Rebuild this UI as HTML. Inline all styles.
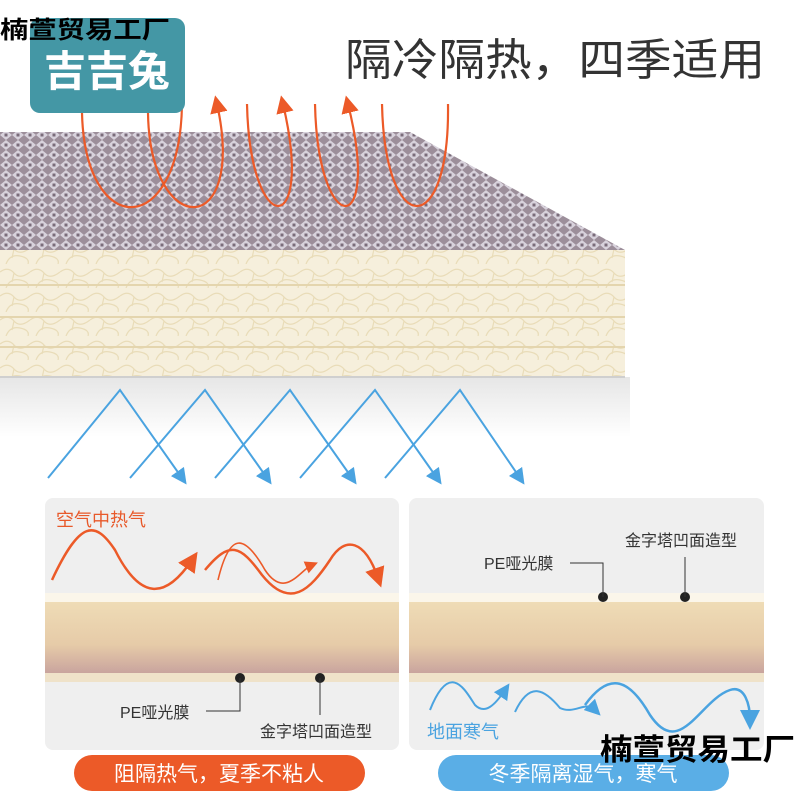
<!DOCTYPE html>
<html><head><meta charset="utf-8"><style>
html,body{margin:0;padding:0;background:#fff;}
svg{display:block;}
text{font-family:"Liberation Sans","Noto Sans CJK SC",sans-serif;}
</style></head><body>
<svg width="800" height="800" viewBox="0 0 800 800" xmlns="http://www.w3.org/2000/svg">
<defs>
<pattern id="foil" width="12" height="10" patternUnits="userSpaceOnUse">
<rect width="12" height="10" fill="#9c8e9a"/>
<path d="M0 5 L6 0 L12 5 L6 10Z" fill="#d8d2dc"/>
<rect x="4.5" y="3.5" width="3" height="3" fill="#7a6c7a"/>
</pattern>
<pattern id="cream" width="30" height="24" patternUnits="userSpaceOnUse">
<rect width="30" height="24" fill="#f6efdc"/>
<path d="M0 8 Q8 2 14 9 T30 8 M6 24 Q10 14 20 16 T28 24 M14 9 L12 18" stroke="#e9dcb8" stroke-width="1.2" fill="none"/>
</pattern>
<linearGradient id="band" x1="0" y1="0" x2="0" y2="1">
<stop offset="0" stop-color="#efdcb6"/><stop offset="0.6" stop-color="#e6cba8"/><stop offset="1" stop-color="#c9a49e"/>
</linearGradient>
<marker id="ao" markerWidth="8" markerHeight="8" refX="4" refY="4" orient="auto" markerUnits="strokeWidth"><path d="M0 0 L8 4 L0 8Z" fill="#ec5a28"/></marker>
<marker id="ab" markerWidth="8" markerHeight="8" refX="4" refY="4" orient="auto" markerUnits="strokeWidth"><path d="M0 0 L8 4 L0 8Z" fill="#4aa3e0"/></marker>
<linearGradient id="shade" x1="0" y1="0" x2="0" y2="1"><stop offset="0" stop-color="#e6e6e6"/><stop offset="1" stop-color="#fff"/></linearGradient>
</defs>

<rect x="0" y="377" width="630" height="60" fill="url(#shade)"/>
<path d="M0 132 L410 132 L625 250 L0 250Z" fill="url(#foil)"/>
<rect x="0" y="250" width="625" height="127" fill="url(#cream)"/>
<g stroke="#e4d5ae" stroke-width="2"><line x1="0" y1="285" x2="625" y2="285"/><line x1="0" y1="317" x2="625" y2="317"/><line x1="0" y1="347" x2="625" y2="347"/></g>
<line x1="0" y1="377" x2="625" y2="377" stroke="#cfcfcf" stroke-width="2"/>

<g stroke="#ec5a28" stroke-width="2.2" fill="none">
<path d="M82 113 C85 240 180 240 182 104"/>
<path d="M148 113 C150 240 247 240 217 104" marker-end="url(#ao)"/>
<path d="M247 104 C250 240 315 240 283 104" marker-end="url(#ao)"/>
<path d="M315 104 C318 240 382 240 348 104" marker-end="url(#ao)"/>
<path d="M382 104 C385 240 450 240 448 104"/>
</g>

<rect x="30" y="18" width="155" height="95" rx="10" fill="#4497a5"/>
<text x="107" y="86" font-size="42" font-weight="bold" fill="#fff" text-anchor="middle">吉吉兔</text>
<text x="0" y="38" font-size="24" font-weight="bold" fill="#000" textLength="170" lengthAdjust="spacingAndGlyphs">楠萱贸易工厂</text>
<text x="345" y="75" font-size="44" fill="#333" textLength="420" lengthAdjust="spacingAndGlyphs">隔冷隔热，四季适用</text>

<g stroke="#4aa3e0" stroke-width="2" fill="none">
<path d="M48 478 L120 390 L182 478" marker-end="url(#ab)"/>
<path d="M130 478 L205 390 L267 478" marker-end="url(#ab)"/>
<path d="M215 478 L290 390 L352 478" marker-end="url(#ab)"/>
<path d="M300 478 L375 390 L437 478" marker-end="url(#ab)"/>
<path d="M385 478 L460 390 L520 478" marker-end="url(#ab)"/>
</g>

<rect x="45" y="498" width="354" height="252" rx="8" fill="#efefef"/>
<rect x="409" y="498" width="355" height="252" rx="8" fill="#efefef"/>
<g>
<rect x="45" y="593" width="354" height="9" fill="#fbf6ea"/>
<rect x="45" y="602" width="354" height="71" fill="url(#band)"/>
<rect x="45" y="673" width="354" height="9" fill="#efe2c9"/>
<rect x="409" y="593" width="355" height="9" fill="#fbf6ea"/>
<rect x="409" y="602" width="355" height="71" fill="url(#band)"/>
<rect x="409" y="673" width="355" height="9" fill="#efe2c9"/>
</g>

<text x="56" y="526" font-size="18" fill="#e8592a">空气中热气</text>
<g stroke="#ec5a28" stroke-width="2.5" fill="none">
<path d="M52 580 C80 520 95 520 115 550 C140 600 165 600 192 560" marker-end="url(#ao)"/>
<path d="M218 580 C230 530 245 535 265 570 C285 600 300 570 312 565" marker-end="url(#ao)" stroke-width="1.6"/>
<path d="M205 570 C230 540 240 545 262 575 C290 610 310 590 330 560 C345 535 365 540 378 578" marker-end="url(#ao)"/>
</g>
<g fill="#222"><circle cx="240" cy="678" r="5"/><circle cx="320" cy="678" r="5"/></g>
<g stroke="#333" stroke-width="1" fill="none"><path d="M206 711 L240 711 L240 678"/><path d="M320 678 L320 715"/></g>
<text x="120" y="718" font-size="16" fill="#333">PE哑光膜</text>
<text x="260" y="737" font-size="16" fill="#333">金字塔凹面造型</text>

<g fill="#222"><circle cx="603" cy="597" r="5"/><circle cx="685" cy="597" r="5"/></g>
<g stroke="#333" stroke-width="1" fill="none"><path d="M570 563 L603 563 L603 597"/><path d="M685 557 L685 597"/></g>
<text x="484" y="569" font-size="16" fill="#333">PE哑光膜</text>
<text x="625" y="546" font-size="16" fill="#333">金字塔凹面造型</text>
<text x="427" y="738" font-size="18" fill="#4aa3e0">地面寒气</text>
<g stroke="#4aa3e0" stroke-width="2" fill="none">
<path d="M430 710 C450 660 465 690 475 705 C485 715 495 705 505 690" marker-end="url(#ab)"/>
<path d="M515 712 C530 680 545 690 560 708 C575 715 585 700 595 710" marker-end="url(#ab)"/>
<path d="M585 705 C610 670 630 680 650 715 C680 760 700 700 730 690 C745 685 750 705 750 720" marker-end="url(#ab)" stroke-width="2.5"/>
</g>

<rect x="74" y="755" width="291" height="36" rx="18" fill="#ec5a28"/>
<text x="219" y="781" font-size="21" fill="#fff" text-anchor="middle">阻隔热气，夏季不粘人</text>
<rect x="438" y="755" width="291" height="36" rx="18" fill="#5aaee6"/>
<text x="583" y="781" font-size="21" fill="#fff" text-anchor="middle">冬季隔离湿气，寒气</text>

<text x="600" y="760" font-size="30" font-weight="bold" fill="#000" textLength="195" lengthAdjust="spacingAndGlyphs">楠萱贸易工厂</text>
</svg>
</body></html>
